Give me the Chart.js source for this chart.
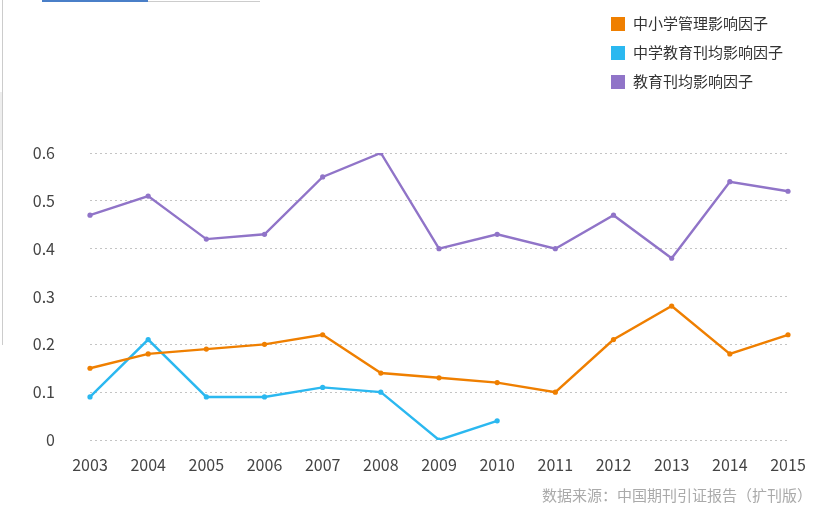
<!DOCTYPE html>
<html>
<head>
<meta charset="utf-8">
<script src="https://cdn.jsdelivr.net/npm/chart.js@4"></script>
<style>
  body { margin: 0; width: 822px; height: 512px; background: #fff; overflow: hidden; position: relative;
         font-family: "Noto Sans CJK SC", "Noto Sans", sans-serif; }
  #wrap { position: absolute; left: 0; top: 0; width: 822px; height: 512px; }
  #legend { position: absolute; left: 611px; top: 13px; font-size: 15px; color: #333; }
  #legend div { height: 29px; line-height: 20px; white-space: nowrap; }
  #legend span.box { display: inline-block; width: 14px; height: 14px; margin-right: 8px; vertical-align: -2px; }
  #source { position: absolute; right: 10px; top: 484px; font-size: 15px; color: #aaa; }
  .deco { position: absolute; }
</style>
</head>
<body>
<div class="deco" style="left:42px;top:0;width:106px;height:2px;background:#4a7fc8"></div>
<div class="deco" style="left:148px;top:1px;width:112px;height:1px;background:#ccc"></div>
<div class="deco" style="left:2px;top:0;width:1px;height:345px;background:#ccc"></div>
<div class="deco" style="left:0;top:92px;width:2px;height:58px;background:#eee"></div>
<div id="wrap"><canvas id="myChart" width="822" height="512"></canvas></div>
<div id="legend"></div>
<div id="source">数据来源：中国期刊引证报告（扩刊版）</div>
<script>
var years = ['2003', '2004', '2005', '2006', '2007', '2008', '2009', '2010', '2011', '2012', '2013', '2014', '2015'];
var seriesNames = ['中小学管理影响因子', '中学教育刊均影响因子', '教育刊均影响因子'];
var mgmt = [0.15, 0.18, 0.19, 0.20, 0.22, 0.14, 0.13, 0.12, 0.10, 0.21, 0.28, 0.18, 0.22];
var middle = [0.09, 0.21, 0.09, 0.09, 0.11, 0.10, 0.00, 0.04, null, null, null, null, null];
var edu = [0.47, 0.51, 0.42, 0.43, 0.55, 0.60, 0.40, 0.43, 0.40, 0.47, 0.38, 0.54, 0.52];
var colors = ['#ef7f00', '#2bb8f0', '#9074c8'];

function makeSet(i, values) {
    return {
        label: seriesNames[i],
        data: values,
        borderColor: colors[i],
        backgroundColor: colors[i],
        borderWidth: 2.4,
        pointRadius: 2.6,
        pointHoverRadius: 3,
        pointBorderWidth: 0,
        tension: 0,
        spanGaps: false
    };
}

var legend = document.querySelector('#legend');
seriesNames.forEach(function (name, i) {
    var row = document.createElement('div');
    row.innerHTML = '<span class="box" style="background:' + colors[i] + '"></span>' + name;
    legend.appendChild(row);
});

var ctx = document.querySelector('#myChart').getContext('2d');
var myChart = new Chart(ctx, {
    type: 'line',
    data: {
        labels: years,
        datasets: [makeSet(0, mgmt), makeSet(1, middle), makeSet(2, edu)]
    },
    options: {
        responsive: false,
        animation: false,
        layout: { padding: { top: 153, right: 34, bottom: 0, left: 0 } },
        plugins: { legend: { display: false }, tooltip: { enabled: false } },
        scales: {
            x: {
                offset: false,
                afterFit: function (scale) { scale.height = 72; },
                grid: { display: false, drawTicks: false },
                border: { display: false },
                ticks: { color: '#444', padding: 15, font: { size: 16, family: '"Noto Sans CJK SC", sans-serif' }, maxRotation: 0, autoSkip: false }
            },
            y: {
                min: 0,
                max: 0.6,
                afterFit: function (scale) { scale.width = 90; },
                grid: { color: '#c4c4c4', drawTicks: false },
                border: { display: false, dash: [2, 3] },
                ticks: {
                    stepSize: 0.1,
                    color: '#444',
                    padding: 35,
                    font: { size: 16, family: '"Noto Sans CJK SC", sans-serif' },
                    callback: function (v) { return v === 0 ? '0' : v.toFixed(1); }
                }
            }
        }
    }
});
</script>
</body>
</html>
